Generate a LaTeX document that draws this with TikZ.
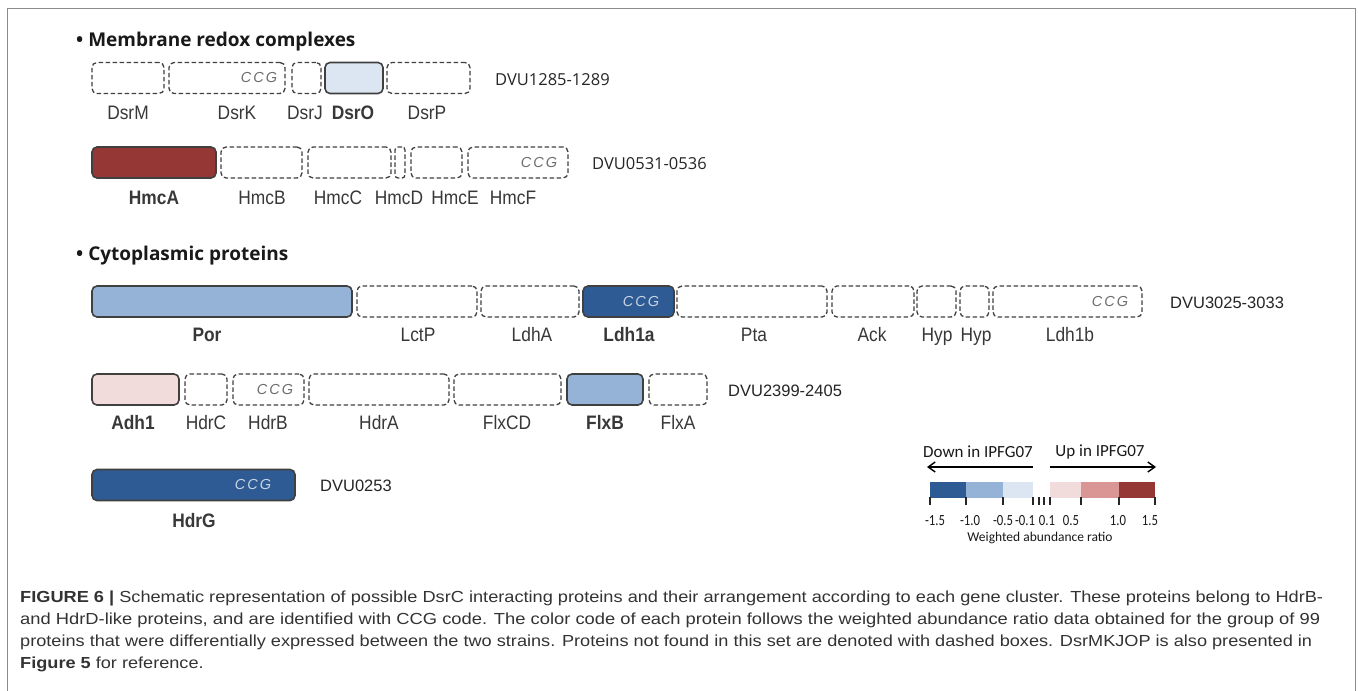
\documentclass[tikz,border=0pt]{standalone}
\usepackage{fontspec}
\usepackage{graphicx}
\setmainfont{Liberation Sans}
\newfontfamily\nsans[FakeStretch=0.89]{Liberation Sans}
\newfontfamily\osans{Open Sans}
\newfontfamily\carl{Carlito}
\newfontfamily\ncarl[FakeStretch=0.82]{Carlito}
\usetikzlibrary{arrows.meta}

\definecolor{edge}{HTML}{404040}
\definecolor{txt}{HTML}{383838}
\definecolor{ccgc}{HTML}{6E6E6E}
\definecolor{ccgl}{HTML}{C9D3E3}
\definecolor{cA}{HTML}{2E5B94}
\definecolor{cB}{HTML}{95B3D7}
\definecolor{cC}{HTML}{DCE6F2}
\definecolor{cD}{HTML}{F2DCDB}
\definecolor{cE}{HTML}{D99694}
\definecolor{cF}{HTML}{953735}
\definecolor{framec}{HTML}{8C8C8C}
\definecolor{capc}{HTML}{333333}

\newbox\fitbox
\newdimen\fitw
\newcommand\fitto[2]{\setbox\fitbox=\hbox{#2}\fitw=\wd\fitbox\pgfmathsetmacro\fitratio{#1/\fitw}\xdef\lastratio{\fitratio}\scalebox{\fitratio}[1]{\box\fitbox}}

\tikzset{
  gbox/.style={rounded corners=5pt, minimum height=31pt, inner sep=0pt, outer sep=0pt, anchor=west},
  dbox/.style={gbox, draw=edge, line width=1.3pt, dash pattern=on 4.5pt off 2.5pt},
  sbox/.style={gbox, draw=edge, line width=1.6pt},
  lab/.style={font=\nsans\fontsize{19.5}{22}\selectfont, text=txt, anchor=base, inner sep=0pt},
  blab/.style={lab, font=\nsans\fontsize{19.5}{22}\selectfont\bfseries},
  ccg/.style={font=\fontsize{14.5}{16}\selectfont\itshape\addfontfeature{LetterSpace=14}, text=ccgc, inner sep=0pt},
  ccglight/.style={ccg, text=ccgl},
  dvu/.style={font=\osans\fontsize{16.5}{19}\selectfont, text=black!85, anchor=base west, inner sep=0pt},
  dvub/.style={font=\fontsize{16.5}{19}\selectfont, text=black!85, anchor=base west, inner sep=0pt},
  headtxt/.style={font=\osans\bfseries\fontsize{19}{22}\selectfont, text=black!90, anchor=base west, inner sep=0pt},
  legtxt/.style={font=\carl\fontsize{17}{20}\selectfont, text=black!90, inner sep=0pt},
  ticklab/.style={font=\ncarl\fontsize{15.5}{17}\selectfont, text=black!90, inner sep=0pt, anchor=base},
  captxt/.style={font=\fontsize{16}{18}\selectfont, text=capc, anchor=base west, inner sep=0pt},
  arrline/.style={line width=1.4pt, -{Straight Barb[length=7pt,width=10pt,line width=1.4pt]}},
  tickline/.style={line width=1.3pt, draw=black!85},
}

\begin{document}
\begin{tikzpicture}[x=1pt, y=-1pt]
\useasboundingbox (0,0) rectangle (1358,691);
\fill[white] (0,0) rectangle (1358,691);

% frame
\coordinate (fbl) at (7,691);
\coordinate (ftl) at (7,8);
\coordinate (ftr) at (1355,8);
\coordinate (fbr) at (1355,691);
\draw[framec, line width=1pt] (fbl) -- (ftl) -- (ftr) -- (fbr);

% ---------- Membrane redox complexes
\node[headtxt] (h1) at (76,46) {• Membrane redox complexes};

% row 1
\node[dbox, minimum width=72pt] (dsrm) at (92,78) {};
\node[dbox, minimum width=116pt] (dsrk) at (169,78) {};
\node[dbox, minimum width=29pt] (dsrj) at (292,78) {};
\node[sbox, fill=cC, minimum width=58pt] (dsro) at (325,78) {};
\node[dbox, minimum width=83pt] (dsrp) at (387,78) {};
\node[ccg] (dsrkc) at (259,78) {CCG};
\node[dvu] (dvu1) at (495,85) {DVU1285-1289};
\node[lab] (dsrml) at (128,119) {DsrM};
\node[lab] (dsrkl) at (237,119) {DsrK};
\node[lab] (dsrjl) at (305,119) {DsrJ};
\node[blab] (dsrol) at (353,119) {DsrO};
\node[lab] (dsrpl) at (427,119) {DsrP};

% row 2
\node[sbox, fill=cF, minimum width=124pt] (hmca) at (92,162.5) {};
\node[dbox, minimum width=81pt] (hmcb) at (221,162.5) {};
\node[dbox, minimum width=83pt] (hmcc) at (308,162.5) {};
\node[dbox, minimum width=10pt, rounded corners=3pt] (hmcd) at (395,162.5) {};
\node[dbox, minimum width=51pt] (hmce) at (411,162.5) {};
\node[dbox, minimum width=100pt] (hmcf) at (468,162.5) {};
\node[ccg] (hmcfc) at (539,162.5) {CCG};
\node[dvu] (dvu2) at (592,169) {DVU0531-0536};
\node[blab] (hmcal) at (154,204) {HmcA};
\node[lab] (hmcbl) at (262,204) {HmcB};
\node[lab] (hmccl) at (338,204) {HmcC};
\node[lab] (hmcdl) at (399,204) {HmcD};
\node[lab] (hmcel) at (455,204) {HmcE};
\node[lab] (hmcfl) at (513,204) {HmcF};

% ---------- Cytoplasmic proteins
\node[headtxt] (h2) at (76,260) {• Cytoplasmic proteins};

% row 3
\node[sbox, fill=cB, minimum width=260pt] (por) at (92,301.5) {};
\node[dbox, minimum width=120pt] (lctp) at (357,301.5) {};
\node[dbox, minimum width=98pt] (ldha) at (481,301.5) {};
\node[sbox, fill=cA, minimum width=91pt] (ldh1a) at (583,301.5) {};
\node[dbox, minimum width=150pt] (pta) at (677,301.5) {};
\node[dbox, minimum width=82pt] (ack) at (832,301.5) {};
\node[dbox, minimum width=39pt] (hypa) at (917,301.5) {};
\node[dbox, minimum width=29pt] (hypb) at (960,301.5) {};
\node[dbox, minimum width=149pt] (ldh1b) at (993,301.5) {};
\node[ccglight] (ldh1ac) at (641,301.5) {CCG};
\node[ccg] (ldh1bc) at (1110,301.5) {CCG};
\node[dvub] (dvu3) at (1170,308) {DVU3025-3033};
\node[blab] (porl) at (207,341) {Por};
\node[lab] (lctpl) at (418,341) {LctP};
\node[lab] (ldhal) at (532,341) {LdhA};
\node[blab] (ldh1al) at (629,341) {Ldh1a};
\node[lab] (ptal) at (754,341) {Pta};
\node[lab] (ackl) at (872,341) {Ack};
\node[lab] (hypal) at (937,341) {Hyp};
\node[lab] (hypbl) at (976,341) {Hyp};
\node[lab] (ldh1bl) at (1070,341) {Ldh1b};

% row 4
\node[sbox, fill=cD, minimum width=87pt] (adh1) at (92,389.5) {};
\node[dbox, minimum width=42pt] (hdrc) at (185,389.5) {};
\node[dbox, minimum width=71pt] (hdrb) at (233,389.5) {};
\node[dbox, minimum width=140pt] (hdra) at (309,389.5) {};
\node[dbox, minimum width=107pt] (flxcd) at (454,389.5) {};
\node[sbox, fill=cB, minimum width=76pt] (flxb) at (567,389.5) {};
\node[dbox, minimum width=58pt] (flxa) at (649,389.5) {};
\node[ccg] (hdrbc) at (275,389.5) {CCG};
\node[dvub] (dvu4) at (728,396) {DVU2399-2405};
\node[blab] (adh1l) at (133,429) {Adh1};
\node[lab] (hdrcl) at (206,429) {HdrC};
\node[lab] (hdrbl) at (268,429) {HdrB};
\node[lab] (hdral) at (379,429) {HdrA};
\node[lab] (flxcdl) at (507,429) {FlxCD};
\node[blab] (flxbl) at (605,429) {FlxB};
\node[lab] (flxal) at (678,429) {FlxA};

% row 5
\node[sbox, fill=cA, minimum width=203pt] (hdrg) at (92,485) {};
\node[ccglight] (hdrgc) at (253,485) {CCG};
\node[dvub] (dvu5) at (320,491) {DVU0253};
\node[blab] (hdrgl) at (194,527) {HdrG};

% ---------- legend
\node[legtxt] (down) at (978,452) {Down in IPFG07};
\node[legtxt] (up) at (1100,452) {Up in IPFG07};
\coordinate (dA) at (1033,467);
\coordinate (dB) at (927,467);
\coordinate (uA) at (1050,467);
\coordinate (uB) at (1156,467);
\draw[arrline] (dA) -- (dB);
\draw[arrline] (uA) -- (uB);

\fill[cA] (930,482) rectangle (966,498);
\fill[cB] (966,482) rectangle (1003,498);
\fill[cC] (1003,482) rectangle (1033,498);
\fill[cD] (1050,482) rectangle (1081,498);
\fill[cE] (1081,482) rectangle (1119,498);
\fill[cF] (1119,482) rectangle (1155,498);
\foreach \t in {930,966,1003,1033,1039,1044,1050,1081,1119,1155}
  \draw[tickline] (\t,497) -- (\t,505);
\node[ticklab] (t1) at (935,525) {-1.5};
\node[ticklab] (t2) at (970,525) {-1.0};
\node[ticklab] (t3) at (1003,525) {-0.5};
\node[ticklab] (t4) at (1025,525) {-0.1};
\node[ticklab] (t5) at (1047,525) {0.1};
\node[ticklab] (t6) at (1071,525) {0.5};
\node[ticklab] (t7) at (1118,525) {1.0};
\node[ticklab] (t8) at (1150,525) {1.5};
\node[legtxt, font=\carl\fontsize{13.5}{15}\selectfont] (wl) at (1040,538) {Weighted abundance ratio};

% ---------- caption
\node[captxt] (cap1) at (20,602) {\fitto{1303}{\textbf{FIGURE 6 |} Schematic representation of possible DsrC interacting proteins and their arrangement according to each gene cluster. These proteins belong to HdrB-}};
\node[captxt] (cap2) at (20,624) {\fitto{1300}{and HdrD-like proteins, and are identified with CCG code. The color code of each protein follows the weighted abundance ratio data obtained for the group of 99}};
\node[captxt] (cap3) at (20,646) {\fitto{1292}{proteins that were differentially expressed between the two strains. Proteins not found in this set are denoted with dashed boxes. DsrMKJOP is also presented in}};
\node[captxt] (cap4) at (20,668) {\scalebox{\lastratio}[1]{\textbf{Figure 5} for reference.}};
\end{tikzpicture}
\end{document}
